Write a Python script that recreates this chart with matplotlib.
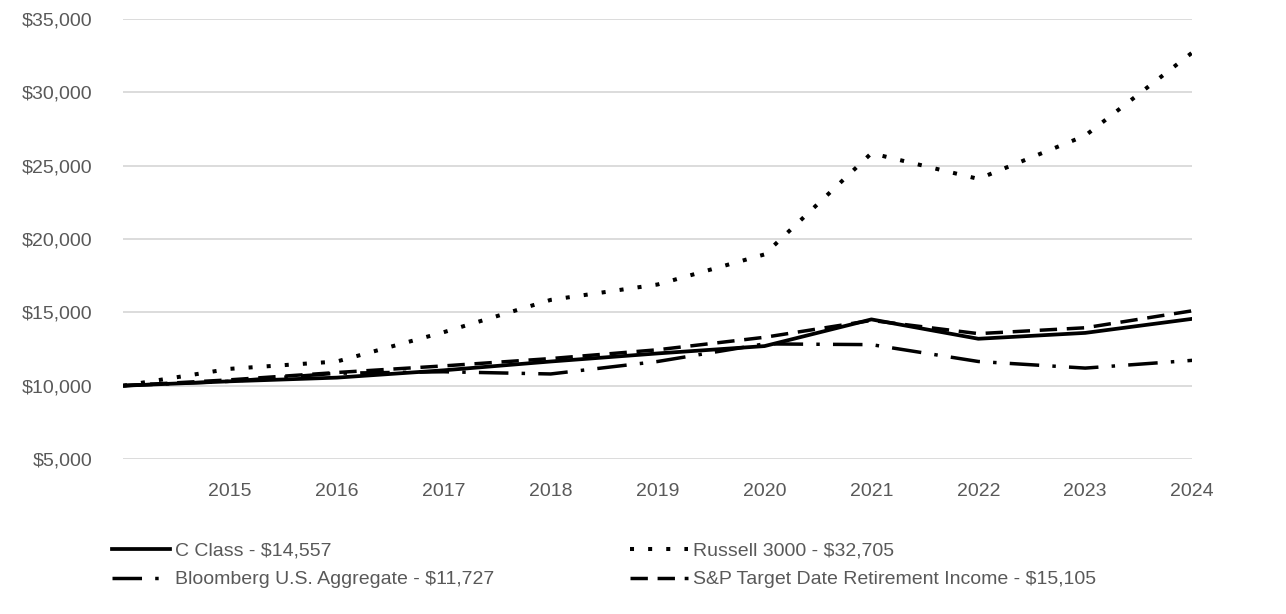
import matplotlib
matplotlib.use("Agg")
import matplotlib.pyplot as plt
from matplotlib import font_manager
from matplotlib.lines import Line2D
from matplotlib.ticker import FuncFormatter

years = [2014, 2015, 2016, 2017, 2018, 2019, 2020, 2021, 2022, 2023, 2024]
c_class = [10000, 10300, 10550, 11050, 11650, 12200, 12700, 14520, 13200, 13600, 14557]
russell = [10000, 11150, 11650, 13650, 15850, 16900, 18950, 25850, 24100, 27050, 32705]
bloomberg = [10000, 10300, 10850, 10950, 10800, 11650, 12850, 12800, 11650, 11200, 11727]
sp_target = [10000, 10400, 10900, 11350, 11850, 12450, 13300, 14450, 13550, 13950, 15105]

labels = ["C Class - $14,557", "Russell 3000 - $32,705",
          "Bloomberg U.S. Aggregate - $11,727",
          "S&P Target Date Retirement Income - $15,105"]
xticks = [2015, 2016, 2017, 2018, 2019, 2020, 2021, 2022, 2023, 2024]
yticks = [5000, 10000, 15000, 20000, 25000, 30000, 35000]

names = {f.name for f in font_manager.fontManager.ttflist}
fam = "Liberation Sans Narrow" if "Liberation Sans Narrow" in names else "Liberation Sans"
fs = 15 if fam == "Liberation Sans Narrow" else 14
plt.rcParams["font.family"] = [fam, "DejaVu Sans"]

fig = plt.figure(figsize=(12.86, 6.14), dpi=100)
ax = fig.add_axes([0.0957, 0.2524, 0.8313, 0.7166])

styles = {
    "c": dict(color="black", lw=2.7, linestyle="-"),
    "r": dict(color="black", lw=2.9, linestyle=(0, (1, 3.5))),
    "b": dict(color="black", lw=2.5, linestyle=(0, (8.5, 3.8, 1, 3.8))),
    "s": dict(color="black", lw=2.5, linestyle=(0, (5, 2.8))),
}
ax.plot(years, russell, **styles["r"])
ax.plot(years, bloomberg, **styles["b"])
ax.plot(years, sp_target, **styles["s"])
ax.plot(years, c_class, **styles["c"])

ax.set_xlim(2014, 2024)
ax.set_ylim(5000, 35000)
ax.set_xticks(xticks)
ax.set_yticks(yticks)
ax.yaxis.set_major_formatter(FuncFormatter(lambda v, p: f"${v:,.0f}"))
ax.grid(axis="y", color="#d9d9d9", lw=1.3)
ax.set_axisbelow(True)
for s in ax.spines.values():
    s.set_visible(False)
ax.tick_params(axis="both", length=0, labelsize=fs, labelcolor="#595959")
ax.tick_params(axis="x", pad=17)
ax.tick_params(axis="y", pad=22)

h = {k: Line2D([], [], **v) for k, v in styles.items()}
leg_kw = dict(frameon=False, fontsize=fs, labelcolor="#595959", handlelength=3.0,
              handletextpad=0.25, labelspacing=0.58, loc="upper left", borderaxespad=0,
              borderpad=0)
fig.legend([h["c"], h["b"]], [labels[0], labels[2]], bbox_to_anchor=(112/1286, 1-542/614), **leg_kw)
fig.legend([h["r"], h["s"]], [labels[1], labels[3]], bbox_to_anchor=(630/1286, 1-542/614), **leg_kw)

fig.savefig("out.png", dpi=100)
